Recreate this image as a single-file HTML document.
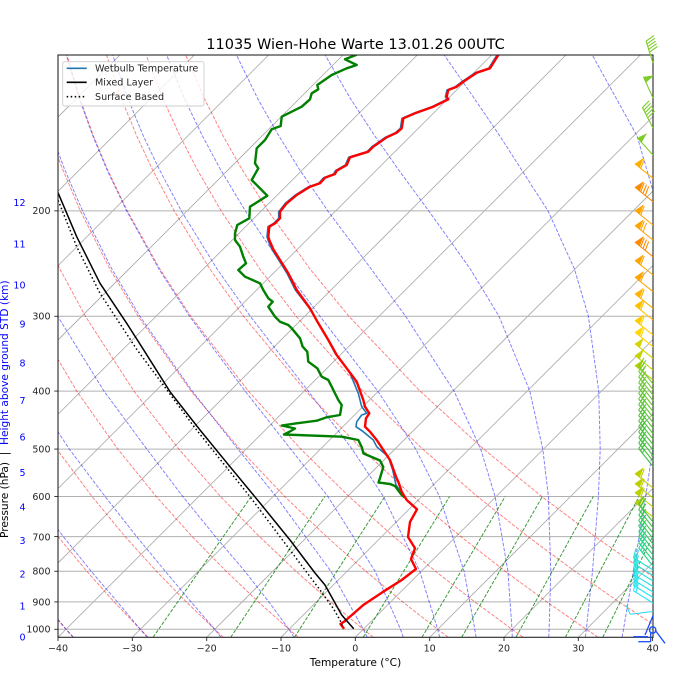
<!DOCTYPE html>
<html><head><meta charset="utf-8">
<style>
html,body{margin:0;padding:0;background:#fff;}
svg{display:block;font-family:"DejaVu Sans","Liberation Sans",sans-serif;}
</style></head>
<body>
<svg width="675" height="698" viewBox="0 0 675 698" xmlns="http://www.w3.org/2000/svg">
<defs>
<clipPath id="c"><rect x="58" y="55" width="595" height="582.3"/></clipPath>
<g id="bP"><line x1="0" y1="0" x2="0" y2="-23" stroke="currentColor"/><polygon points="0,-23 9.2,-20.1 0,-17.25" fill="currentColor" stroke="currentColor" stroke-width="0.6"/></g>
<g id="bPB"><use href="#bP"/><line x1="0" y1="-15.8" x2="9.2" y2="-18.7" stroke="currentColor"/></g>
<g id="bPBB"><use href="#bPB"/><line x1="0" y1="-12.9" x2="9.2" y2="-15.8" stroke="currentColor"/></g>
<g id="bPBBB"><use href="#bPBB"/><line x1="0" y1="-10" x2="9.2" y2="-12.9" stroke="currentColor"/></g>
<g id="bB"><line x1="0" y1="0" x2="0" y2="-23" stroke="currentColor"/><line x1="0" y1="-23" x2="9.2" y2="-25.9" stroke="currentColor"/></g>
<g id="bBB"><use href="#bB"/><line x1="0" y1="-20.1" x2="9.2" y2="-23" stroke="currentColor"/></g>
<g id="bBBH"><use href="#bBB"/><line x1="0" y1="-17.25" x2="4.6" y2="-18.7" stroke="currentColor"/></g>
<g id="bB5"><use href="#bBB"/><line x1="0" y1="-17.25" x2="9.2" y2="-20.1" stroke="currentColor"/><line x1="0" y1="-14.4" x2="9.2" y2="-17.3" stroke="currentColor"/><line x1="0" y1="-11.5" x2="9.2" y2="-14.4" stroke="currentColor"/></g>
</defs>
<rect width="675" height="698" fill="#fff"/>
<g clip-path="url(#c)" fill="none">
<!-- isotherms -->
<g stroke="#a8a8a8" stroke-width="0.8">
<line x1="-462.3" y1="637.3" x2="120" y2="55"/>
<line x1="-388" y1="637.3" x2="194.3" y2="55"/>
<line x1="-313.6" y1="637.3" x2="268.7" y2="55"/>
<line x1="-239.3" y1="637.3" x2="343" y2="55"/>
<line x1="-165" y1="637.3" x2="417.3" y2="55"/>
<line x1="-90.7" y1="637.3" x2="491.6" y2="55"/>
<line x1="-16.3" y1="637.3" x2="566" y2="55"/>
<line x1="58" y1="637.3" x2="640.3" y2="55"/>
<line x1="132.3" y1="637.3" x2="714.6" y2="55"/>
<line x1="206.7" y1="637.3" x2="789" y2="55"/>
<line x1="281" y1="637.3" x2="863.3" y2="55"/>
<line x1="355.3" y1="637.3" x2="937.6" y2="55"/>
<line x1="429.7" y1="637.3" x2="1012" y2="55"/>
<line x1="504" y1="637.3" x2="1086.3" y2="55"/>
<line x1="578.3" y1="637.3" x2="1160.6" y2="55"/>
<line x1="652.6" y1="637.3" x2="1234.9" y2="55"/>
</g>
<!-- horizontal grid -->
<g stroke="#b0b0b0" stroke-width="1">
<line x1="58" x2="653" y1="210.85" y2="210.85"/>
<line x1="58" x2="653" y1="316.27" y2="316.27"/>
<line x1="58" x2="653" y1="391.07" y2="391.07"/>
<line x1="58" x2="653" y1="449.08" y2="449.08"/>
<line x1="58" x2="653" y1="496.49" y2="496.49"/>
<line x1="58" x2="653" y1="536.57" y2="536.57"/>
<line x1="58" x2="653" y1="571.28" y2="571.28"/>
<line x1="58" x2="653" y1="601.91" y2="601.91"/>
<line x1="58" x2="653" y1="629.3" y2="629.3"/>
</g>
<!-- dry adiabats -->
<g stroke="#ff0000" stroke-opacity="0.5" stroke-width="0.96" stroke-dasharray="3.55 1.54">
<polyline points="73.2,637.24 66,629.3 42,601.91"/>
<polyline points="148.2,637.24 140.3,629.3 114.1,601.91 86.8,571.28 58,536.57 27.7,496.49"/>
<polyline points="223.2,637.24 214.7,629.3 186.3,601.91 156.5,571.28 125.1,536.57 92,496.49 56.8,449.08 19.5,391.07"/>
<polyline points="298.2,637.24 289,629.3 258.4,601.91 226.2,571.28 192.2,536.57 156.2,496.49 117.8,449.08 76.7,391.07 32.7,316.27"/>
<polyline points="373.2,637.24 363.3,629.3 330.5,601.91 296,571.28 259.4,536.57 220.5,496.49 178.8,449.08 133.9,391.07 85.4,316.27 59.8,268.86 33.4,210.85"/>
<polyline points="448.1,637.24 437.7,629.3 402.7,601.91 365.7,571.28 326.5,536.57 284.7,496.49 239.8,449.08 191.1,391.07 138.1,316.27 109.8,268.86 80.3,210.85 62.3,168.59 50.3,136.05"/>
<polyline points="523.1,637.24 512,629.3 474.8,601.91 435.5,571.28 393.6,536.57 349,496.49 300.8,449.08 248.4,391.07 190.8,316.27 159.8,268.86 127.3,210.85 107.1,168.59 93.5,136.05 80,98.84 63.5,43.31"/>
<polyline points="598.1,637.24 586.3,629.3 546.9,601.91 505.2,571.28 460.8,536.57 413.2,496.49 361.7,449.08 305.6,391.07 243.5,316.27 209.8,268.86 174.2,210.85 151.9,168.59 136.8,136.05 121.5,98.84 102.5,43.31"/>
<polyline points="673.1,637.24 660.6,629.3 619,601.91 574.9,571.28 527.9,536.57 477.4,496.49 422.7,449.08 362.8,391.07 296.2,316.27 259.8,268.86 221.1,210.85 196.7,168.59 180,136.05 163,98.84 141.6,43.31"/>
<polyline points="748.1,637.24 735,629.3 691.2,601.91 644.7,571.28 595,536.57 541.7,496.49 483.7,449.08 420,391.07 348.9,316.27 309.9,268.86 268.1,210.85 241.5,168.59 223.2,136.05 204.5,98.84 180.6,43.31"/>
</g>
<!-- moist adiabats -->
<g stroke="#0000ff" stroke-opacity="0.5" stroke-width="0.96" stroke-dasharray="3.55 1.54">
<polyline points="73.3,637.24 66,629.3 44.1,601.91"/>
<polyline points="147.2,637.24 140.3,629.3 117.4,601.91 91.2,571.28 63.3,536.57 32.8,496.49"/>
<polyline points="220.8,637.24 214.7,629.3 191.1,601.91 165.3,571.28 136.6,536.57 105.1,496.49 69.3,449.08 31.2,391.07"/>
<polyline points="294,637.24 289,629.3 268.8,601.91 244.9,571.28 215.4,536.57 182.8,496.49 146.8,449.08 104,391.07 57.7,316.27"/>
<polyline points="367.2,637.24 363.3,629.3 330.9,571.28 276.1,496.49 237.9,449.08 192.2,391.07 139.9,316.27 111.8,268.86 82.5,210.85 64.3,168.59 52.3,136.05"/>
<polyline points="403.3,637.24 400.5,629.3 375.1,571.28 327.9,496.49 290.7,449.08 245.1,391.07 189.5,316.27 158.8,268.86 126.6,210.85 106.4,168.59 92.9,136.05 79.4,98.84 62.9,43.31"/>
<polyline points="439.7,637.24 437.7,629.3 419.8,571.28 383.4,496.49 352.1,449.08 308.2,391.07 250.3,316.27 217,268.86 181.3,210.85 158.9,168.59 143.4,136.05 128,98.84 108.6,43.31"/>
<polyline points="476.1,637.24 474.8,629.3 464.1,571.28 439.4,496.49 415.8,449.08 377.8,391.07 319.9,316.27 284.6,268.86 245.3,210.85 220,168.59 202.5,136.05 184.5,98.84 161.9,43.31"/>
<polyline points="512.3,637.24 512,629.3 507.9,571.28 495.1,496.49 480.7,449.08 454,391.07 405.6,316.27 371.1,268.86 327.8,210.85 298.9,168.59 279,136.05 257.8,98.84 230.8,43.31"/>
<polyline points="548.8,637.24 549.1,629.3 550.8,571.28 548.4,496.49 542.8,449.08 529.8,391.07 499,316.27 470.2,268.86 428.7,210.85 397.7,168.59 374.9,136.05 350.6,98.84 318.3,43.31"/>
<polyline points="585.4,637.24 586.3,629.3 592.5,571.28 598.4,496.49 600.2,449.08 598.7,391.07 588.4,316.27 574.4,268.86 548,210.85 520.8,168.59 499.9,136.05 474.6,98.84 436.1,43.31"/>
<polyline points="622.1,637.24 623.5,629.3 628.1,601.91 633.3,571.28 639.1,536.57 645.6,496.49 652.7,449.08 660,391.07 665.2,316.27 664.8,268.86 658.8,210.85 646.5,168.59 637.1,136.05 616.5,98.84 585.8,43.31"/>
</g>
<!-- mixing ratio lines -->
<g stroke="#008000" stroke-opacity="0.8" stroke-width="0.96" stroke-dasharray="3.55 1.54">
<line x1="153.1" y1="637.24" x2="251.2" y2="496.49"/>
<line x1="230.7" y1="637.24" x2="324.8" y2="496.49"/>
<line x1="294.5" y1="637.24" x2="384.9" y2="496.49"/>
<line x1="363.2" y1="637.24" x2="449.6" y2="496.49"/>
<line x1="422" y1="637.24" x2="505.2" y2="496.49"/>
<line x1="461.7" y1="637.24" x2="542.4" y2="496.49"/>
<line x1="516" y1="637.24" x2="593.3" y2="496.49"/>
<line x1="565.4" y1="637.24" x2="639.1" y2="496.49"/>
<line x1="602.8" y1="637.24" x2="672.5" y2="496.49"/>
</g>
</g>
<g clip-path="url(#c)" fill="none" stroke-linejoin="round" stroke-linecap="round">
<polyline stroke="#1f77b4" stroke-width="1.6" points="497,52 497,55 488.7,68.3 475.4,72.7 462,81.7 455.4,86.7 447,90 445.4,96.7 447,99.3 432,106.7 413.7,113.3 402,118.3 400.4,128.3 395.4,132.7 385.4,137.3 372,146.7 367,151.7 348.7,157.3 345.4,165 335.4,170.7 333.7,174 323.7,177.7 318.7,183.3 308.7,186.7 295.4,195 285.4,203.3 278.7,211.7 278.7,218.3 273.7,223.3 268,226.7 267,236.7 268,240 272,249.3 278.7,260 287,273.3 295.4,290 308.3,306.7 316.7,320 326.7,336.7 335,353.3 343.3,363.3 350,373.3 358.3,393.3 361.7,406.7 366.7,413.3 361.7,415 356.7,421.7 356,426.7 363.3,431.7 373.3,440 376.7,446.7 388.3,456.7 392.7,470 396,485 400,491"/>
<polyline stroke="#008000" stroke-width="2.4" points="358,52 356,55 345,59.3 356.7,65 346.7,68.3 331.7,75 317.3,85 318.3,89.3 311.7,93.3 310,99.3 301.7,106.7 281.7,116.7 280.7,126 271.7,129.3 265,140 256.7,148.3 255,163.3 258.3,168.3 251.7,180 267.3,195.7 250,206.7 249.3,218.3 237.3,225 235,233.3 235,240 240,246.7 243.3,256.7 246,263.3 238.3,270 245,276.7 260,283.3 263.3,290 268.3,298.3 272.7,301.7 268.3,306.7 275,316.7 280,321.7 288.3,325 291.7,328.3 300,338.3 302.7,346.7 307.3,351.7 308.3,361.7 317.3,368.3 321.7,376.7 328.3,380 331.7,386.7 338.3,400 341.7,405 340,415 326.7,417.3 316.7,420.7 296.7,423.3 281.7,425.5 295,428.5 289,432 284,434.5 341.7,436.7 358.3,440 361.7,447 363.5,453.5 380,460.5 383.3,467 380,478 378.5,482.5 390,484 395,486 398,490 401.7,495 404,497"/>
<polyline stroke="#ff0000" stroke-width="2.4" points="500.5,52 498.3,55 490,68.3 476.7,72.7 463.3,81.7 456.7,86.7 448.3,90 446.7,96.7 448.3,99.3 433.3,106.7 415,113.3 403.3,118.3 401.7,128.3 396.7,132.7 386.7,137.3 373.3,146.7 368.3,151.7 350,157.3 346.7,165 336.7,170.7 335,174 325,177.7 320,183.3 310,186.7 296.7,195 286.7,203.3 280,211.7 280,218.3 275,223.3 269.3,226.7 268.3,236.7 269.3,240 273.3,249.3 280,260 288.3,273.3 296.7,290 310,308.3 318.3,323.3 328.3,340 336.7,355 346.7,368.3 356.7,381.7 363.3,400 365,406.7 369.3,413.3 366,418.3 365,426.7 370,431.7 376.7,440 390,460 396,476.7 398.3,481.7 401.7,491.7 406.7,500 417,509.3 410,522 408,537 415,548.3 411,559 416,569 401.7,580 383.3,591.7 363.3,605 345,621 340.5,624 343.5,628"/>
<polyline stroke="#000" stroke-width="1.5" points="55,186 58,192.7 76.7,236.7 100,283.3 126.7,323.3 143.3,349.3 170,391.7 200,430 230,466.7 260,503 290,540 315,573 325,585 341.7,615 346,620 353.3,628.3"/>
<polyline stroke="#000" stroke-width="1.5" stroke-dasharray="1.5 2.5" stroke-linecap="butt" points="55,193 58,200 76.7,246.7 100,293.3 136.7,349.3 163.3,385 195,428 250,496.7 290,550 320,590 333,608 340,620 342.7,626.7"/>
</g>
<!-- frame -->
<rect x="58" y="55" width="595" height="582.3" fill="none" stroke="#262626" stroke-width="1.1"/>
<g stroke="#262626" stroke-width="0.9">
<line x1="58" x2="58" y1="637.3" y2="641"/>
<line x1="132.3" x2="132.3" y1="637.3" y2="641"/>
<line x1="206.7" x2="206.7" y1="637.3" y2="641"/>
<line x1="281" x2="281" y1="637.3" y2="641"/>
<line x1="355.3" x2="355.3" y1="637.3" y2="641"/>
<line x1="429.7" x2="429.7" y1="637.3" y2="641"/>
<line x1="504" x2="504" y1="637.3" y2="641"/>
<line x1="578.3" x2="578.3" y1="637.3" y2="641"/>
<line x1="652.6" x2="652.6" y1="637.3" y2="641"/>
<line x1="54.3" x2="58" y1="210.85" y2="210.85"/>
<line x1="54.3" x2="58" y1="316.27" y2="316.27"/>
<line x1="54.3" x2="58" y1="391.07" y2="391.07"/>
<line x1="54.3" x2="58" y1="449.08" y2="449.08"/>
<line x1="54.3" x2="58" y1="496.49" y2="496.49"/>
<line x1="54.3" x2="58" y1="536.57" y2="536.57"/>
<line x1="54.3" x2="58" y1="571.28" y2="571.28"/>
<line x1="54.3" x2="58" y1="601.91" y2="601.91"/>
<line x1="54.3" x2="58" y1="629.3" y2="629.3"/>
</g>
<g font-size="9.5" fill="#262626" text-anchor="middle">
<text x="58" y="651.5">−40</text>
<text x="132.3" y="651.5">−30</text>
<text x="206.7" y="651.5">−20</text>
<text x="281" y="651.5">−10</text>
<text x="355.3" y="651.5">0</text>
<text x="429.7" y="651.5">10</text>
<text x="504" y="651.5">20</text>
<text x="578.3" y="651.5">30</text>
<text x="652.7" y="651.5">40</text>
</g>
<g font-size="9.5" fill="#262626" text-anchor="end">
<text x="50.5" y="214.1">200</text>
<text x="50.5" y="319.4">300</text>
<text x="50.5" y="394.7">400</text>
<text x="50.5" y="452.7">500</text>
<text x="50.5" y="500.1">600</text>
<text x="50.5" y="540.4">700</text>
<text x="50.5" y="574.7">800</text>
<text x="50.5" y="605.7">900</text>
<text x="50.5" y="632.7">1000</text>
</g>
<g font-size="9.5" fill="#0000ff" text-anchor="end">
<text x="25.5" y="206.1">12</text>
<text x="25.5" y="247.4">11</text>
<text x="25.5" y="288.4">10</text>
<text x="25.5" y="327.7">9</text>
<text x="25.5" y="366.7">8</text>
<text x="25.5" y="404.1">7</text>
<text x="25.5" y="440.7">6</text>
<text x="25.5" y="476.1">5</text>
<text x="25.5" y="510.7">4</text>
<text x="25.5" y="544.1">3</text>
<text x="25.5" y="577.4">2</text>
<text x="25.5" y="609.4">1</text>
<text x="25.5" y="640.7">0</text>
</g>
<text x="355.5" y="666" font-size="10.6" fill="#000" text-anchor="middle">Temperature (°C)</text>
<text transform="translate(8,538) rotate(-90)" font-size="10.6" fill="#000"><tspan>Pressure (hPa)</tspan><tspan>&#160;&#160;|&#160;&#160;</tspan><tspan fill="#0000ff">Height above ground STD (km)</tspan></text>
<text x="355.5" y="49" font-size="14.5" fill="#000" text-anchor="middle">11035 Wien-Hohe Warte 13.01.26 00UTC</text>
<!-- legend -->
<rect x="62.7" y="61.7" width="141.3" height="44.3" rx="2" ry="2" fill="#fff" fill-opacity="0.8" stroke="#cccccc" stroke-width="0.9"/>
<line x1="66.7" y1="68.3" x2="86.7" y2="68.3" stroke="#1f77b4" stroke-width="1.6"/>
<line x1="66.7" y1="82.3" x2="86.7" y2="82.3" stroke="#000" stroke-width="1.6"/>
<line x1="66.7" y1="96.7" x2="86.7" y2="96.7" stroke="#000" stroke-width="1.6" stroke-dasharray="1.5 2.5"/>
<g font-size="9.6" fill="#262626">
<text x="95" y="71.7">Wetbulb Temperature</text>
<text x="95" y="85.7">Mixed Layer</text>
<text x="95" y="100.1">Surface Based</text>
</g>
<!-- wind barbs -->
<g stroke-width="1.1">
<use href="#bB5" transform="translate(653,63) rotate(-17.5)" color="#7ccd2a"/>
<use href="#bP" transform="translate(653,98) rotate(-24.3)" color="#7ccd2a"/>
<use href="#bB5" transform="translate(653,128) rotate(-27.3)" color="#7ccd2a"/>
<use href="#bP" transform="translate(653,155) rotate(-42.2)" color="#7ccd2a"/>
<use href="#bPB" transform="translate(653,178.3) rotate(-51.1)" color="#ffb000"/>
<use href="#bPBBB" transform="translate(653,201.7) rotate(-51.1)" color="#ff8c00"/>
<use href="#bPB" transform="translate(653,225) rotate(-51.1)" color="#ffa500"/>
<use href="#bPBB" transform="translate(653,240) rotate(-51.1)" color="#ffa500"/>
<use href="#bPBBB" transform="translate(653,256.7) rotate(-51.1)" color="#ff8c00"/>
<use href="#bPB" transform="translate(653,275) rotate(-51.1)" color="#ffa500"/>
<use href="#bPB" transform="translate(653,291.7) rotate(-51.1)" color="#ffa500"/>
<use href="#bPB" transform="translate(653,308.3) rotate(-51.1)" color="#ffb300"/>
<use href="#bPB" transform="translate(653,320) rotate(-51.1)" color="#ffc000"/>
<use href="#bPB" transform="translate(653,335) rotate(-51.1)" color="#ffcc00"/>
<use href="#bPB" transform="translate(653,346.7) rotate(-51.1)" color="#ffd700"/>
<use href="#bP" transform="translate(653,358.3) rotate(-51.1)" color="#d4d400"/>
<use href="#bP" transform="translate(653,370) rotate(-51.1)" color="#c4d400"/>
<use href="#bP" transform="translate(653,380) rotate(-51.1)" color="#b0d000"/>
<use href="#bBBH" transform="translate(653,384) rotate(-38.5)" color="#7acc30"/>
<use href="#bBBH" transform="translate(653,389.5) rotate(-38.5)" color="#76cb31"/>
<use href="#bBBH" transform="translate(653,395) rotate(-38.5)" color="#72ca32"/>
<use href="#bBBH" transform="translate(653,400.5) rotate(-38.5)" color="#6eca33"/>
<use href="#bBBH" transform="translate(653,406) rotate(-38.5)" color="#6bc934"/>
<use href="#bBBH" transform="translate(653,411.5) rotate(-38.5)" color="#67c835"/>
<use href="#bBBH" transform="translate(653,417) rotate(-38.5)" color="#63c736"/>
<use href="#bBBH" transform="translate(653,422.5) rotate(-38.5)" color="#5fc637"/>
<use href="#bBBH" transform="translate(653,428) rotate(-38.5)" color="#5bc639"/>
<use href="#bBBH" transform="translate(653,433.5) rotate(-38.5)" color="#57c53a"/>
<use href="#bBBH" transform="translate(653,439) rotate(-38.5)" color="#53c43b"/>
<use href="#bBBH" transform="translate(653,444.5) rotate(-38.5)" color="#4fc33c"/>
<use href="#bBBH" transform="translate(653,450) rotate(-38.5)" color="#4cc23d"/>
<use href="#bBBH" transform="translate(653,455.5) rotate(-38.5)" color="#48c23e"/>
<use href="#bBBH" transform="translate(653,461) rotate(-38.5)" color="#44c13f"/>
<use href="#bBBH" transform="translate(653,466.5) rotate(-38.5)" color="#40c040"/>
<use href="#bPB" transform="translate(653,488) rotate(-51.1)" color="#bcd000"/>
<use href="#bPB" transform="translate(653,498) rotate(-51.1)" color="#bcd000"/>
<use href="#bPB" transform="translate(653,507) rotate(-51.1)" color="#bcd000"/>
<use href="#bPB" transform="translate(653,517) rotate(-51.1)" color="#bcd000"/>
<use href="#bBBH" transform="translate(653,522) rotate(-38.5)" color="#48c048"/>
<use href="#bBBH" transform="translate(653,527.5) rotate(-38.5)" color="#43c351"/>
<use href="#bBBH" transform="translate(653,533) rotate(-38.5)" color="#3ec65a"/>
<use href="#bBBH" transform="translate(653,538.5) rotate(-38.5)" color="#39c963"/>
<use href="#bBBH" transform="translate(653,544) rotate(-38.5)" color="#34cc6c"/>
<use href="#bBBH" transform="translate(653,549.5) rotate(-38.5)" color="#2fcf75"/>
<use href="#bBBH" transform="translate(653,555) rotate(-38.5)" color="#2ad27e"/>
<use href="#bBBH" transform="translate(653,560.5) rotate(-38.5)" color="#25d587"/>
<use href="#bBBH" transform="translate(653,566) rotate(-38.5)" color="#20d890"/>
<use href="#bBB" transform="translate(653,570) rotate(-58)" color="#20e0d0"/>
<use href="#bBB" transform="translate(653,575.5) rotate(-58)" color="#20e1d6"/>
<use href="#bBB" transform="translate(653,581) rotate(-58)" color="#20e2dc"/>
<use href="#bBB" transform="translate(653,586.5) rotate(-58)" color="#20e2e2"/>
<use href="#bBB" transform="translate(653,592) rotate(-58)" color="#20e3e9"/>
<use href="#bBB" transform="translate(653,597.5) rotate(-58)" color="#20e4ef"/>
<use href="#bBB" transform="translate(653,603) rotate(-58)" color="#20e5f5"/>
<use href="#bB" transform="translate(653,611.5) rotate(-96.9)" color="#30d8f0"/>
</g>
<g stroke="#1a4cff" stroke-width="1.3" fill="none">
<circle cx="652.7" cy="630" r="3.2"/>
<line x1="653.3" y1="615" x2="645" y2="635"/>
<line x1="633.3" y1="636.7" x2="648" y2="636.7"/>
<line x1="638.3" y1="641.7" x2="650.7" y2="641.7"/>
<line x1="650.7" y1="633" x2="650.7" y2="641.7"/>
<line x1="655" y1="630" x2="665" y2="643.3"/>
</g>
</svg>
</body></html>
